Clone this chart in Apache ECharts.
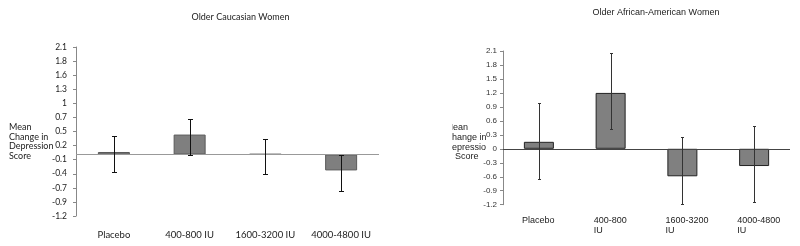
<!DOCTYPE html>
<html><head><meta charset="utf-8">
<script src="https://cdn.jsdelivr.net/npm/echarts@6/dist/echarts.min.js"></script>
<style>html,body{margin:0;padding:0;background:#fff}#c{width:800px;height:246px}</style>
</head><body><div id="c"></div>
<script>
// ---- data ----
const leftTitle = 'Older Caucasian Women';
const leftCategories = ['Placebo', '400-800 IU', '1600-3200 IU', '4000-4800 IU'];
const leftMeans = [0.05, 0.39, 0.01, -0.31];
const leftLower = [-0.34, 0.0, -0.38, -0.71];
const leftUpper = [0.36, 0.69, 0.31, -0.01];
const leftTickLabels = ['-1.2', '-0.9', '-0.7', '-0.4', '-0.1', '0.2', '0.5', '0.7', '1', '1.3', '1.6', '1.8', '2.1'];
const leftYName = ['Mean', 'Change in', 'Depression', 'Score'];

const rightTitle = 'Older African-American Women';
const rightCategories = ['Placebo', '400-800\nIU', '1600-3200\nIU', '4000-4800\nIU'];
const rightMeans = [0.15, 1.2, -0.59, -0.37];
const rightLower = [-0.64, 0.43, -1.18, -1.15];
const rightUpper = [0.99, 2.05, 0.26, 0.48];
const rightTickLabels = ['-1.2', '-0.9', '-0.6', '-0.3', '0', '0.3', '0.6', '0.9', '1.2', '1.5', '1.8', '2.1'];
const rightYName = ['Mean', 'Change in', 'Depressio', 'Score'];

// ---- chart ----
const LF = 'Lato, "Open Sans", sans-serif';
const RF = '"Liberation Sans", Arial, sans-serif';
const chart = echarts.init(document.getElementById('c'), null, {renderer: 'canvas'});

function errRender(capHalf, color) {
  return function (params, api) {
    const x = api.value(0), lo = api.value(1), hi = api.value(2);
    const pt = api.coord([x, hi]);
    const pb = api.coord([x, lo]);
    const cx = Math.round(pt[0]) + 0.5;
    const yt = Math.round(pt[1]) + 0.5, yb = Math.round(pb[1]) + 0.5;
    const st = {stroke: color, lineWidth: 1};
    return {type: 'group', children: [
      {type: 'line', shape: {x1: cx, y1: yt, x2: cx, y2: yb}, style: st},
      {type: 'line', shape: {x1: cx - capHalf, y1: yt, x2: cx + capHalf, y2: yt}, style: st},
      {type: 'line', shape: {x1: cx - capHalf, y1: yb, x2: cx + capHalf, y2: yb}, style: st}
    ]};
  };
}

const graphics = [];
graphics.push({type: 'text', x: 240.5, y: 17, style: {text: leftTitle, font: '9px ' + LF, fill: '#222', textAlign: 'center', textVerticalAlign: 'middle'}});
graphics.push({type: 'text', x: 656, y: 13, style: {text: rightTitle, font: '9px ' + RF, fill: '#222', textAlign: 'center', textVerticalAlign: 'middle'}});
leftYName.forEach((t, i) => graphics.push({type: 'text', x: 9, y: 127 + i * 9.7,
  style: {text: t, font: '9px ' + LF, fill: '#222', textAlign: 'left', textVerticalAlign: 'middle'}}));
rightYName.forEach((t, i) => graphics.push({type: 'text', x: (i === 3 ? 455 : 445.5), y: 127.7 + i * 9.7,
  style: {text: t, font: '9px ' + RF, fill: '#222', textAlign: 'left', textVerticalAlign: 'middle'}}));
graphics.push({type: 'rect', z: 100, shape: {x: 425, y: 118, width: 27, height: 48}, style: {fill: '#fff'}});

const option = {
  animation: false,
  backgroundColor: '#fff',
  graphic: graphics,
  grid: [
    {left: 76, top: 47, width: 303, height: 169},
    {left: 503, top: 51, width: 287, height: 153.7}
  ],
  xAxis: [
    {type: 'category', gridIndex: 0, data: leftCategories,
      axisLine: {show: false}, axisTick: {show: false},
      axisLabel: {margin: 14, fontSize: 9.5, fontFamily: LF, color: '#222', interval: 0}},
    {type: 'category', gridIndex: 1, data: rightCategories,
      axisLine: {show: false}, axisTick: {show: false},
      axisLabel: {margin: 11, interval: 0, color: '#222',
        formatter: v => v.split('\n').map(s => '{a|' + s + '}').join('\n'),
        rich: {a: {width: 34, align: 'left', fontSize: 9, fontFamily: RF, color: '#222', lineHeight: 10}}}}
  ],
  yAxis: [
    {type: 'value', gridIndex: 0, min: -1.2, max: 2.1, interval: 0.275,
      splitLine: {show: false},
      axisLine: {show: true, lineStyle: {color: '#888'}},
      axisTick: {show: true, length: 3, lineStyle: {color: '#888'}},
      axisLabel: {margin: 9, fontSize: 8.5, fontFamily: LF, color: '#222',
        formatter: v => leftTickLabels[Math.round((v + 1.2) / 0.275)]}},
    {type: 'value', gridIndex: 1, min: -1.2, max: 2.1, interval: 0.3,
      splitLine: {show: false},
      axisLine: {show: true, lineStyle: {color: '#888'}},
      axisTick: {show: true, length: 3, lineStyle: {color: '#888'}},
      axisLabel: {margin: 6, fontSize: 8, fontFamily: RF, color: '#333',
        formatter: v => rightTickLabels[Math.round((v + 1.2) / 0.3)]}}
  ],
  series: [
    {type: 'bar', xAxisIndex: 0, yAxisIndex: 0, data: leftMeans, barWidth: 32,
      itemStyle: {color: '#7f7f7f', borderColor: '#5a5a5a', borderWidth: 1},
      markLine: {silent: true, symbol: 'none', label: {show: false},
        lineStyle: {color: '#999', width: 1, type: 'solid'}, data: [{yAxis: 0}]}},
    {type: 'custom', xAxisIndex: 0, yAxisIndex: 0, z: 5,
      data: leftCategories.map((c, i) => [i, leftLower[i], leftUpper[i]]),
      renderItem: errRender(2.5, '#111')},
    {type: 'bar', xAxisIndex: 1, yAxisIndex: 1, data: rightMeans, barWidth: 30,
      itemStyle: {color: '#808080', borderColor: '#222', borderWidth: 1},
      markLine: {silent: true, symbol: 'none', label: {show: false},
        lineStyle: {color: '#444', width: 1, type: 'solid'}, data: [{yAxis: 0}]}},
    {type: 'custom', xAxisIndex: 1, yAxisIndex: 1, z: 5,
      data: rightCategories.map((c, i) => [i, rightLower[i], rightUpper[i]]),
      renderItem: errRender(1.5, '#333')}
  ]
};
chart.setOption(option);
</script>
</body></html>
